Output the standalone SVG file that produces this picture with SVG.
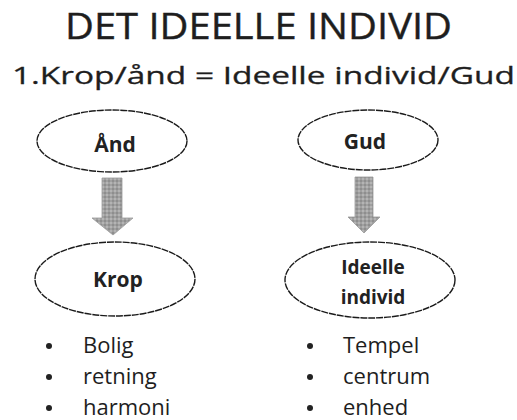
<svg xmlns="http://www.w3.org/2000/svg" width="517" height="420" viewBox="0 0 517 420">
<style>
.t{font-family:"Open Sans","Liberation Sans",sans-serif;fill:#1e1e1e}
.lbl{font-family:"Open Sans","Liberation Sans",sans-serif;font-weight:bold;fill:#222;text-anchor:middle}
.ell{fill:#fff;stroke:#1a1a1a;stroke-width:1.4;stroke-dasharray:7 0.9}
.arr{fill:url(#tex);stroke:#9a9a9a;stroke-width:0.8}
.bul{fill:#222}
</style>
<defs>
<pattern id="tex" width="4" height="4" patternUnits="userSpaceOnUse">
<rect width="4" height="4" fill="#a0a0a0"/>
<rect width="2" height="2" fill="#8e8e8e"/>
<rect x="2" y="2" width="2" height="2" fill="#b4b4b4"/>
</pattern>
</defs>
<rect width="517" height="420" fill="#fff"/>
<text class="t" x="65" y="39" font-size="36" textLength="387" lengthAdjust="spacingAndGlyphs" stroke="#1e1e1e" stroke-width="0.4">DET IDEELLE INDIVID</text>
<text class="t" x="12" y="84" font-size="24" textLength="503" lengthAdjust="spacingAndGlyphs" stroke="#1e1e1e" stroke-width="0.3">1.Krop/ånd = Ideelle individ/Gud</text>
<g id="connectors">
<path class="arr" d="M102,178 H122 V218 H133 L113,235 L92,218 H102 Z"/>
<path class="arr" d="M355,177 H373 V217 H380 L364,233 L348,217 H355 Z"/>
</g>
<g id="node-and">
<ellipse class="ell" cx="112" cy="141" rx="75" ry="31"/>
<text class="lbl" x="115" y="152" font-size="21">Ånd</text>
</g>
<g id="node-gud">
<ellipse class="ell" cx="368" cy="140" rx="70" ry="30"/>
<text class="lbl" x="365" y="149" font-size="21">Gud</text>
</g>
<g id="node-krop">
<ellipse class="ell" cx="115" cy="279" rx="80" ry="37"/>
<text class="lbl" x="118" y="287" font-size="21">Krop</text>
</g>
<g id="node-ideelle">
<ellipse class="ell" cx="370" cy="280" rx="85" ry="38"/>
<text class="lbl" x="373" y="274" font-size="19">Ideelle</text>
<text class="lbl" x="373" y="304" font-size="19">individ</text>
</g>
<g id="list-left">
<circle class="bul" cx="49" cy="346" r="3"/>
<circle class="bul" cx="49" cy="377" r="3"/>
<circle class="bul" cx="49" cy="408" r="3"/>
<text class="t" x="83" y="353" font-size="22">Bolig</text>
<text class="t" x="83" y="384" font-size="22">retning</text>
<text class="t" x="83" y="415" font-size="22">harmoni</text>
</g>
<g id="list-right">
<circle class="bul" cx="310" cy="346" r="3"/>
<circle class="bul" cx="310" cy="377" r="3"/>
<circle class="bul" cx="310" cy="408" r="3"/>
<text class="t" x="343" y="353" font-size="22">Tempel</text>
<text class="t" x="343" y="384" font-size="22">centrum</text>
<text class="t" x="343" y="415" font-size="22">enhed</text>
</g>
</svg>
